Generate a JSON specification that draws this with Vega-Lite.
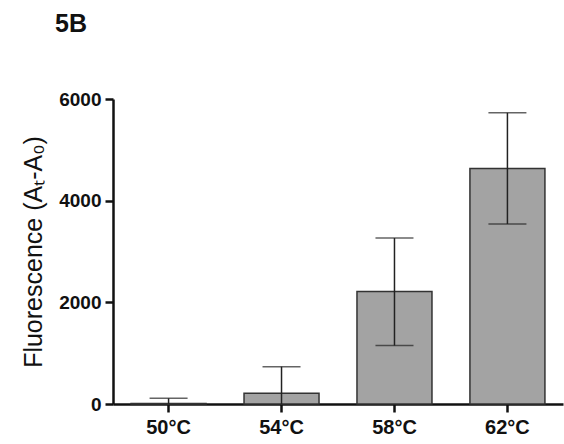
{
  "$schema": "https://vega.github.io/schema/vega-lite/v6.json",
  "autosize": "none",
  "width": 450,
  "height": 305,
  "padding": {"left": 113, "top": 99, "right": 1, "bottom": 40},
  "background": "white",
  "title": {"text": "5B", "anchor": "start", "frame": "group", "dx": -58, "offset": 33, "baseline": "alphabetic", "font": "Liberation Sans", "fontSize": 25, "fontWeight": "bold", "color": "#111"},
  "config": {
    "view": {"stroke": null},
    "font": "Liberation Sans",
    "axis": {"grid": false, "domainColor": "#111", "tickColor": "#111", "labelColor": "#111", "titleColor": "#111"}
  },
  "data": {"values": [
    {"temp": "50°C", "mean": 10, "lo": -90, "hi": 112},
    {"temp": "54°C", "mean": 211, "lo": -313, "hi": 735},
    {"temp": "58°C", "mean": 2213, "lo": 1150, "hi": 3265},
    {"temp": "62°C", "mean": 4634, "lo": 3541, "hi": 5728}
  ]},
  "encoding": {
    "x": {"field": "temp", "type": "nominal", "sort": null,
      "scale": {"paddingInner": 0.336, "paddingOuter": 0.16},
      "axis": {"title": null, "labelAngle": 0, "labelFont": "Liberation Sans", "labelFontSize": 20, "labelFontWeight": "bold", "labelPadding": 5, "domainWidth": 2.5, "tickWidth": 2.5, "tickSize": 8}}
  },
  "layer": [
    {
      "mark": {"type": "bar", "fill": "#a3a3a3", "stroke": "#333", "strokeWidth": 1.5},
      "encoding": {
        "y": {"field": "mean", "type": "quantitative", "scale": {"domain": [0, 6000], "nice": false},
          "axis": {"title": "Fluorescence (Aₜ-A₀)", "values": [0, 2000, 4000, 6000], "format": "d", "labelFont": "Liberation Sans", "labelFontSize": 19, "labelFontWeight": "bold", "labelPadding": 4, "tickSize": 8, "tickWidth": 2.5, "domainWidth": 2.5, "titleFont": "Liberation Sans", "titleFontSize": 25, "titleFontWeight": "normal", "titlePadding": 12}}
      }
    },
    {
      "mark": {"type": "rule", "color": "#222", "strokeWidth": 1.5, "clip": true},
      "encoding": {
        "y": {"field": "lo", "type": "quantitative"},
        "y2": {"field": "hi"}
      }
    },
    {
      "mark": {"type": "tick", "color": "#222", "thickness": 1.5, "size": 38, "clip": true},
      "encoding": {"y": {"field": "hi", "type": "quantitative"}}
    },
    {
      "mark": {"type": "tick", "color": "#222", "thickness": 1.5, "size": 38, "clip": true},
      "encoding": {"y": {"field": "lo", "type": "quantitative"}}
    }
  ]
}
